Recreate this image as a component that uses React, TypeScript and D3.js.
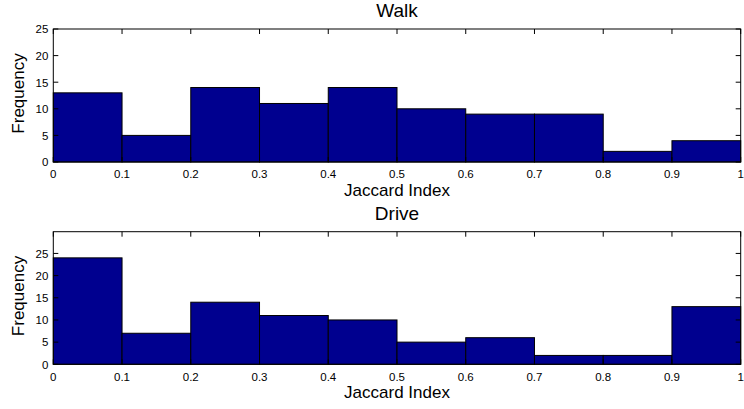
import React from "react";
import * as d3 from "d3";

const binEdges = [0, 0.1, 0.2, 0.3, 0.4, 0.5, 0.6, 0.7, 0.8, 0.9, 1];
const walkCounts = [13, 5, 14, 11, 14, 10, 9, 9, 2, 4];
const driveCounts = [24, 7, 14, 11, 10, 5, 6, 2, 2, 13];
const xTicks = [0, 0.1, 0.2, 0.3, 0.4, 0.5, 0.6, 0.7, 0.8, 0.9, 1];
const yTicks = [0, 5, 10, 15, 20, 25];

const W = 744;
const H = 409;
const FONT = "'Liberation Sans', Arial, Helvetica, sans-serif";
const BAR = "#00008f";

type PanelProps = {
  title: string;
  counts: number[];
  top: number;
  bottom: number;
  yMax: number;
};

function Panel({ title, counts, top, bottom, yMax }: PanelProps) {
  const left = 53.3;
  const right = 740.7;
  const x = d3.scaleLinear().domain([0, 1]).range([left, right]);
  const y = d3.scaleLinear().domain([0, yMax]).range([bottom, top]);
  const tl = 5;
  return (
    <g>
      <text x={(left + right) / 2} y={top - 12} textAnchor="middle" fontFamily={FONT} fontSize={19}>
        {title}
      </text>
      {counts.map((c, i) => (
        <rect
          key={i}
          x={x(binEdges[i])}
          y={y(c)}
          width={x(binEdges[i + 1]) - x(binEdges[i])}
          height={y(0) - y(c)}
          fill={BAR}
          stroke="#000"
          strokeWidth={1}
        />
      ))}
      <rect x={left} y={top} width={right - left} height={bottom - top} fill="none" stroke="#000" strokeWidth={1} />
      {xTicks.map((t) => (
        <g key={"x" + t}>
          <line x1={x(t)} x2={x(t)} y1={bottom} y2={bottom - tl} stroke="#000" />
          <line x1={x(t)} x2={x(t)} y1={top} y2={top + tl} stroke="#000" />
          <text x={x(t)} y={bottom + 16.3} textAnchor="middle" fontFamily={FONT} fontSize={11.5}>
            {d3.format("")(t)}
          </text>
        </g>
      ))}
      {yTicks.map((t) => (
        <g key={"y" + t}>
          <line x1={left} x2={left + tl} y1={y(t)} y2={y(t)} stroke="#000" />
          <line x1={right} x2={right - tl} y1={y(t)} y2={y(t)} stroke="#000" />
          <text x={left - 5} y={y(t) + 4.3} textAnchor="end" fontFamily={FONT} fontSize={11.5}>
            {t}
          </text>
        </g>
      ))}
      <text x={(left + right) / 2} y={bottom + 34} textAnchor="middle" fontFamily={FONT} fontSize={17}>
        Jaccard Index
      </text>
      <text
        transform={`translate(24,${(top + bottom) / 2 - 2}) rotate(-90)`}
        textAnchor="middle"
        fontFamily={FONT}
        fontSize={17}
      >
        Frequency
      </text>
    </g>
  );
}

export default function App() {
  return (
    <svg
      width={W}
      height={H}
      style={{ position: "absolute", left: 0, top: 0, background: "#fff" }}
    >
      <rect width={W} height={H} fill="#fff" />
      <Panel title="Walk" counts={walkCounts} top={29} bottom={162} yMax={25} />
      <Panel title="Drive" counts={driveCounts} top={231.7} bottom={364.3} yMax={29.9} />
    </svg>
  );
}
